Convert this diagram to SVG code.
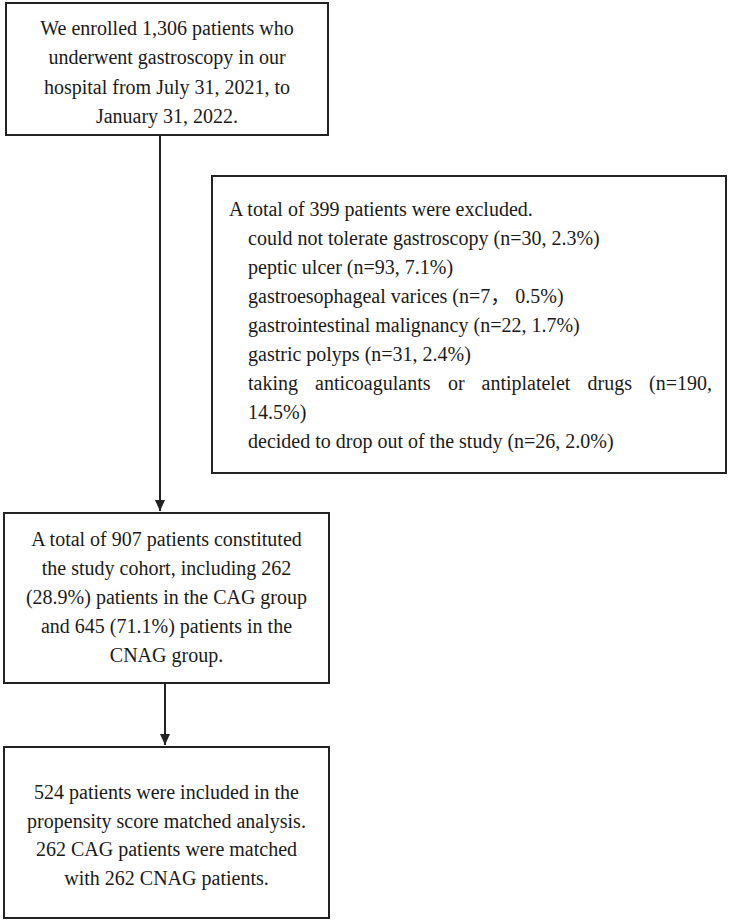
<svg xmlns="http://www.w3.org/2000/svg" width="730" height="923" viewBox="0 0 730 923">
<style>
.box{fill:#fff;stroke:#222;stroke-width:2}
.t{font-family:"Liberation Serif","Times New Roman",serif;font-size:20px;fill:#1a1a1a}
.c{text-anchor:middle}
.e{font-family:"Liberation Serif","Times New Roman","Noto Sans CJK SC",serif;font-size:20px;fill:#1a1a1a}
.ln{stroke:#222;stroke-width:2;fill:none}
</style>
<defs>
<marker id="ah" markerWidth="11" markerHeight="10" refX="11" refY="5" orient="auto" markerUnits="userSpaceOnUse">
<path d="M0,0 L11,5 L0,10 Z" fill="#222"/>
</marker>
</defs>
<rect width="730" height="923" fill="#fff"/>
<g id="connectors">
<line class="ln" x1="160" y1="135" x2="160" y2="511" marker-end="url(#ah)"/>
<line class="ln" x1="165" y1="683" x2="165" y2="745" marker-end="url(#ah)"/>
</g>
<g id="enrolled">
<rect class="box" x="6" y="3" width="322" height="132"/>
<text class="t c" x="167" y="34.5">We enrolled 1,306 patients who</text>
<text class="t c" x="167" y="64">underwent gastroscopy in our</text>
<text class="t c" x="167" y="93.5">hospital from July 31, 2021, to</text>
<text class="t c" x="167" y="123">January 31, 2022.</text>
</g>
<g id="excluded">
<rect class="box" x="212" y="176" width="514" height="297"/>
<text class="e" x="229" y="216">A total of 399 patients were excluded.</text>
<text class="e" x="248" y="245">could not tolerate gastroscopy (n=30, 2.3%)</text>
<text class="e" x="248" y="274">peptic ulcer (n=93, 7.1%)</text>
<text class="e" x="248" y="303">gastroesophageal varices (n=7， 0.5%)</text>
<text class="e" x="248" y="332">gastrointestinal malignancy (n=22, 1.7%)</text>
<text class="e" x="248" y="361">gastric polyps (n=31, 2.4%)</text>
<text class="e" y="390"><tspan x="248">taking</tspan><tspan x="315">anticoagulants</tspan><tspan x="448">or</tspan><tspan x="481.5">antiplatelet</tspan><tspan x="587.5">drugs</tspan><tspan x="649">(n=190,</tspan></text>
<text class="e" x="248" y="419">14.5%)</text>
<text class="e" x="248" y="448">decided to drop out of the study (n=26, 2.0%)</text>
</g>
<g id="cohort">
<rect class="box" x="4" y="513" width="325" height="170"/>
<text class="t c" x="166.5" y="546">A total of 907 patients constituted</text>
<text class="t c" x="166.5" y="575">the study cohort, including 262</text>
<text class="t c" x="166.5" y="604">(28.9%) patients in the CAG group</text>
<text class="t c" x="166.5" y="633">and 645 (71.1%) patients in the</text>
<text class="t c" x="166.5" y="662">CNAG group.</text>
</g>
<g id="matched">
<rect class="box" x="4" y="747" width="325" height="171"/>
<text class="t c" x="166.5" y="799">524 patients were included in the</text>
<text class="t c" x="166.5" y="827.5">propensity score matched analysis.</text>
<text class="t c" x="166.5" y="856">262 CAG patients were matched</text>
<text class="t c" x="166.5" y="884.5">with 262 CNAG patients.</text>
</g>
</svg>
